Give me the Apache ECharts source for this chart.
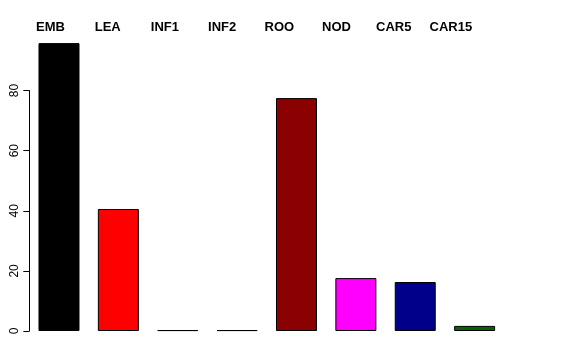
<!DOCTYPE html>
<html><head><meta charset="utf-8">
<script src="https://cdn.jsdelivr.net/npm/echarts@6/dist/echarts.min.js"></script>
<style>html,body{margin:0;padding:0;background:#fff}#c{width:576px;height:360px}</style>
</head><body><div id="c"></div>
<script>
var categories = ["EMB","LEA","INF1","INF2","ROO","NOD","CAR5","CAR15"];
var values = [95.8, 40.6, 0.3, 0.3, 77.5, 17.6, 16.3, 1.7];
var colors = ["#000000","#FF0000","#006400","#000000","#8B0000","#FF00FF","#00008B","#006400"];
var yTicks = [0, 20, 40, 60, 80];

var chart = echarts.init(document.getElementById('c'), null, {renderer:'canvas'});
chart.setOption({
  animation:false,
  backgroundColor:'#fff',
  grid:[
    {left:29.3, width:475, top:90.6, height:240.4},
    {left:21.9, width:457.6, top:38, height:10}
  ],
  xAxis:[
    {type:'category', gridIndex:0, data:categories, axisLine:{show:false}, axisTick:{show:false}, axisLabel:{show:false}},
    {type:'category', gridIndex:1, position:'top', data:categories, axisLine:{show:false}, axisTick:{show:false},
     axisLabel:{show:true, margin:4, color:'#000', fontFamily:'Liberation Sans, Arial, sans-serif', fontWeight:'bold', fontSize:13}}
  ],
  yAxis:[
    {type:'value', gridIndex:0, min:0, max:80, interval:20, splitLine:{show:false},
     axisLine:{show:true, lineStyle:{color:'#000', width:1}},
     axisTick:{show:true, inside:false, length:6, lineStyle:{color:'#000'}},
     axisLabel:{show:true, rotate:90, margin:9, color:'#000', fontFamily:'Liberation Sans, Arial, sans-serif', fontSize:12,
       formatter:function(v){return yTicks.indexOf(v)>=0? String(v):'';}}},
    {type:'value', gridIndex:1, show:false}
  ],
  series:[{
    type:'bar', xAxisIndex:0, yAxisIndex:0, clip:false, barWidth:41,
    data: values.map(function(v,i){return {value:v, itemStyle:{color:colors[i], borderColor:'#000', borderWidth:1}};})
  }]
});
</script></body></html>
